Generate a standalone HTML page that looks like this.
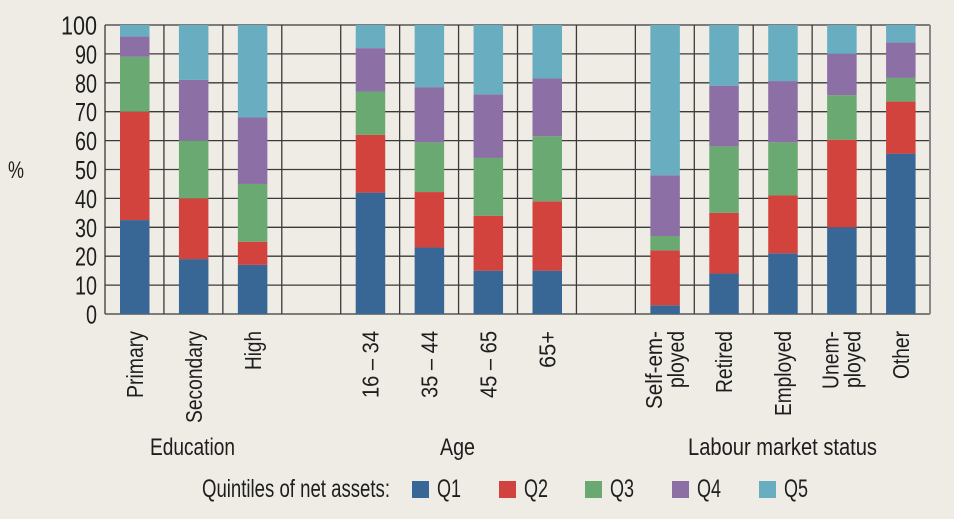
<!DOCTYPE html>
<html><head><meta charset="utf-8"><style>
html,body{margin:0;padding:0;background:#efece5;}
svg{display:block;font-family:"Liberation Sans Narrow","Liberation Sans",sans-serif;fill:#1e1e1e;}
</style></head><body>
<svg width="954" height="519" viewBox="0 0 954 519" xmlns="http://www.w3.org/2000/svg">
<rect width="954" height="519" fill="#efece5"/>
<g id="grid" stroke="#3a3a3a" stroke-width="1.3">
</g>
<g id="bars"></g>
<g id="txt"></g>
<script>
var ns="http://www.w3.org/2000/svg";
function el(p,t,a,txt){var e=document.createElementNS(ns,t);for(var k in a)e.setAttribute(k,a[k]);if(txt!==undefined)e.textContent=txt;p.appendChild(e);return e;}
var grid=document.getElementById('grid'),bars=document.getElementById('bars'),txt=document.getElementById('txt');
var L=105,R=930,T=25,B=314,S=(R-L)/14;
function Y(v){return B-(B-T)*v/100;}
for(var i=0;i<=10;i++){el(grid,'line',{x1:L,x2:R,y1:Y(i*10),y2:Y(i*10)});
 el(txt,'text',{x:97,y:Y(i*10)+9.5,'text-anchor':'end','font-size':26,textLength:(i==10?36:(i==0?11:22)),lengthAdjust:'spacingAndGlyphs'},String(i*10));}
for(var i=0;i<=14;i++){var x=L+S*i;el(grid,'line',{x1:x,x2:x,y1:T,y2:B,stroke:(i==14?'#888':'#3a3a3a'),'stroke-width':(i==14?2:1.3)});}
el(txt,'text',{x:8,y:178,'font-size':24,textLength:16,lengthAdjust:'spacingAndGlyphs'},'%');
var cols=['#386796','#d3433e','#6aa971','#8b6fa5','#69adc1'];
var data={0:[32.5,70,89,96],1:[19,40,60,81],2:[17,25,45,68],4:[42,62,77,92],5:[23,42.2,59.4,78.5],6:[15,34,54,76],7:[15,39,61.5,81.5],
9:[3,22,27,48],10:[14,35,58,79],11:[21,41,59.4,80.6],12:[30,60.3,75.7,90],13:[55.5,73.5,81.7,94]};
for(var k in data){var d=[0].concat(data[k]).concat([100]);var x=L+S*k+15;
 for(var j=0;j<5;j++){el(bars,'rect',{x:x,y:Y(d[j+1]),width:29.5,height:Y(d[j])-Y(d[j+1]),fill:cols[j]});}}
var labels=[[0,'Primary',67],[1,'Secondary',92],[2,'High',39],[4,'16 – 34',67],[5,'35 – 44',67],[6,'45 – 65',67],[7,'65+',37],[10,'Retired',62],[11,'Employed',85],[13,'Other',48]];
labels.forEach(function(l){var c=L+S*l[0]+29.4+8.5;
 el(txt,'text',{transform:'translate('+c+',331) rotate(-90)','text-anchor':'end','font-size':23,textLength:l[2],lengthAdjust:'spacingAndGlyphs'},l[1]);});
[[9,'Self-em-',78,'ployed',57],[12,'Unem-',58,'ployed',57]].forEach(function(l){var c=L+S*l[0]+29.4;
 el(txt,'text',{transform:'translate('+(c-3)+',331) rotate(-90)','text-anchor':'end','font-size':23,textLength:l[2],lengthAdjust:'spacingAndGlyphs'},l[1]);
 el(txt,'text',{transform:'translate('+(c+19)+',331) rotate(-90)','text-anchor':'end','font-size':23,textLength:l[4],lengthAdjust:'spacingAndGlyphs'},l[3]);});
el(txt,'text',{x:150,y:455,'font-size':24,textLength:85,lengthAdjust:'spacingAndGlyphs'},'Education');
el(txt,'text',{x:440,y:455,'font-size':24,textLength:35,lengthAdjust:'spacingAndGlyphs'},'Age');
el(txt,'text',{x:688,y:455,'font-size':24,textLength:189,lengthAdjust:'spacingAndGlyphs'},'Labour market status');
el(txt,'text',{x:202,y:497,'font-size':25,textLength:188,lengthAdjust:'spacingAndGlyphs'},'Quintiles of net assets:');
var lx=[412,499,585,672,759];
for(var j=0;j<5;j++){el(txt,'rect',{x:lx[j],y:481,width:17,height:17,fill:cols[j]});
 el(txt,'text',{x:lx[j]+25,y:497,'font-size':25,textLength:24,lengthAdjust:'spacingAndGlyphs'},'Q'+(j+1));}
</script>
</svg>
</body></html>
